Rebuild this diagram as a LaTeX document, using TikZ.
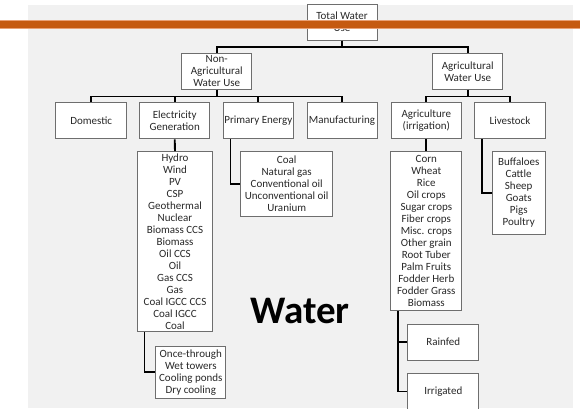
\documentclass[tikz,border=0pt]{standalone}
\usepackage{fontspec}
\setmainfont{Carlito}
\definecolor{bggray}{RGB}{241,241,241}
\definecolor{barorange}{RGB}{197,90,17}
\definecolor{barlight}{RGB}{232,160,118}
\definecolor{boxline}{RGB}{110,110,110}
\definecolor{txt}{RGB}{40,40,40}
\tikzset{
  box/.style={draw=boxline,fill=white,line width=1pt,minimum width=70pt,
    minimum height=36pt,inner sep=1pt,align=center,text=txt,
    font=\fontsize{11}{12}\selectfont},
  listbox/.style={box,minimum width=0pt,minimum height=0pt},
  link/.style={line width=1.9pt,draw=black}
}

\begin{document}
\begin{tikzpicture}[x=1pt,y=-1pt]
\useasboundingbox (0,0) rectangle (580,408);
\clip (0,0) rectangle (580,408);
\fill[white] (0,0) rectangle (580,408);
% 灰色底板
\fill[bggray] (28,5) rectangle (573,408);
% 第一、二层
\node[box] (total) at (342,22.2) {Total Water\\Use};
\node[box] (nonag) at (216.7,71.3) {Non-\\Agricultural\\Water Use};
\node[box] (ag) at (467.7,71.3) {Agricultural\\Water Use};
% 第三层
\node[box,minimum width=71pt] (dom) at (91.2,120.6) {Domestic};
\node[box] (elec) at (174.7,120.8) {Electricity\\Generation};
\node[box] (prim) at (258.3,120.8) {Primary Energy};
\node[box] (manu) at (342,120.8) {Manufacturing};
\node[box] (agri) at (426.3,120.8) {Agriculture\\(irrigation)};
\node[box,minimum width=71pt] (live) at (510,120.8) {Livestock};
% 明细列表
\node[listbox,minimum width=74.6pt,minimum height=180pt] (eleclist) at (175,241.7)
  {Hydro\\Wind\\PV\\CSP\\Geothermal\\Nuclear\\Biomass CCS\\Biomass\\Oil CCS\\Oil\\Gas CCS\\Gas\\Coal IGCC CCS\\Coal IGCC\\Coal};
\node[listbox,minimum width=70.3pt,minimum height=52.3pt] (coollist) at (190.8,372.2)
  {Once-through\\Wet towers\\Cooling ponds\\Dry cooling};
\node[listbox,minimum width=92pt,minimum height=65pt] (primlist) at (286.7,184.2)
  {Coal\\Natural gas\\Conventional oil\\Unconventional oil\\Uranium};
\node[listbox,minimum width=70.7pt,minimum height=159pt] (agrilist) at (426.3,231.2)
  {Corn\\Wheat\\Rice\\Oil crops\\Sugar crops\\Fiber crops\\Misc. crops\\Other grain\\Root Tuber\\Palm Fruits\\Fodder Herb\\Fodder Grass\\Biomass};
\node[listbox,minimum width=52.7pt,minimum height=82.3pt] (livelist) at (518.7,192.9)
  {Buffaloes\\Cattle\\Sheep\\Goats\\Pigs\\Poultry};
\node[box,minimum width=71.3pt] (rainfed) at (443.3,342.2) {Rainfed};
\node[box,minimum width=71.3pt] (irrig) at (443.3,391.5) {Irrigated};
% 连线
\draw[link] (total.south) -- ++(0,6.7) -| (nonag.north);
\draw[link] (total.south) -- ++(0,6.7) -| (ag.north);
\foreach \n in {dom,elec,prim,manu}{
  \draw[link] (nonag.south) -- ++(0,6.7) -| (\n.north);
}
\foreach \n in {agri,live}{
  \draw[link] (ag.south) -- ++(0,6.7) -| (\n.north);
}
\draw[link] (elec.south) -- (eleclist.north);
\draw[link] (agri.south) -- (agrilist.north);
\draw[link] ([xshift=7.7pt]prim.south west) |- (primlist.west);
\draw[link] ([xshift=8pt]live.south west) |- (livelist.west);
\draw[link] ([xshift=7.3pt]eleclist.south west) |- (coollist.west);
\draw[link] ([xshift=7.3pt]agrilist.south west) |- (rainfed.west);
\draw[link] ([xshift=7.3pt]agrilist.south west) |- (irrig.west);
% 橙色横条（压在顶框上）
\filldraw[fill=barorange,draw=barlight,line width=0.6pt] (-1,20.5) rectangle (581,28.5);
% 大字
\node[font=\fontsize{39}{44}\selectfont\bfseries] (title) at (300,311) {Water};
\end{tikzpicture}
\end{document}
